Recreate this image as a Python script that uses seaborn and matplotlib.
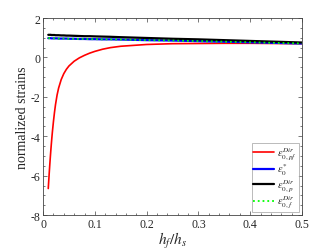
import numpy as np
import pandas as pd
import matplotlib
matplotlib.use("Agg")
import matplotlib.pyplot as plt
from matplotlib.ticker import MultipleLocator, FuncFormatter
import seaborn as sns

# values
hf_hs = [0.01, 0.011, 0.012, 0.013, 0.014, 0.015, 0.016, 0.017, 0.018, 0.02,
         0.022, 0.024, 0.027, 0.03, 0.035, 0.04, 0.045, 0.05, 0.06, 0.07,
         0.08, 0.09, 0.1, 0.115, 0.13, 0.15, 0.2, 0.25, 0.3, 0.35, 0.4, 0.45, 0.5]
eps_pf = [-6.65, -6.22, -5.81, -5.42, -5.05, -4.7, -4.37, -4.06, -3.77, -3.25,
          -2.79, -2.39, -1.91, -1.55, -1.12, -0.82, -0.6, -0.43, -0.19, -0.02,
          0.11, 0.22, 0.31, 0.42, 0.5, 0.57, 0.66, 0.7, 0.71, 0.72, 0.72, 0.71, 0.7]
eps_star = [0.98, 0.98, 0.98, 0.98, 0.98, 0.98, 0.97, 0.97, 0.97, 0.97,
            0.97, 0.97, 0.97, 0.96, 0.96, 0.96, 0.96, 0.95, 0.95, 0.94,
            0.94, 0.93, 0.93, 0.92, 0.92, 0.91, 0.88, 0.86, 0.83, 0.8, 0.77, 0.74, 0.71]
eps_p = [1.15, 1.15, 1.15, 1.15, 1.15, 1.15, 1.14, 1.14, 1.14, 1.14,
         1.14, 1.13, 1.13, 1.13, 1.12, 1.12, 1.11, 1.11, 1.1, 1.09,
         1.08, 1.08, 1.07, 1.06, 1.05, 1.03, 0.99, 0.95, 0.92, 0.88, 0.84, 0.8, 0.76]
eps_f = eps_star

labels = [r'$\varepsilon_{0,pf}^{Dir}$', r'$\varepsilon_{0}^{*}$',
          r'$\varepsilon_{0,p}^{Dir}$', r'$\varepsilon_{0,f}^{Dir}$']

sns.set_style("ticks")
plt.rcParams['font.family'] = ['Liberation Serif', 'DejaVu Serif']
plt.rcParams['mathtext.fontset'] = 'stix'
plt.rcParams['axes.unicode_minus'] = False

fig = plt.figure(figsize=(3.34, 2.51), dpi=100)
ax = fig.add_axes([0.129, 0.139, 0.775, 0.785])

df = pd.DataFrame({'x': hf_hs, 'pf': eps_pf, 'star': eps_star, 'p': eps_p, 'f': eps_f})
sns.lineplot(data=df, x='x', y='pf', ax=ax, color='#ff0000', lw=1.2, label=labels[0])
sns.lineplot(data=df, x='x', y='star', ax=ax, color='#0000ff', lw=1.6, label=labels[1])
sns.lineplot(data=df, x='x', y='p', ax=ax, color='black', lw=1.6, label=labels[2])
sns.lineplot(data=df, x='x', y='f', ax=ax, color='#00ff00', lw=1.3, ls=':', label=labels[3])

ax.set_xlim(0, 0.5)
ax.set_ylim(-8, 2)
ax.xaxis.set_major_locator(MultipleLocator(0.1))
ax.xaxis.set_minor_locator(MultipleLocator(0.02))
ax.yaxis.set_major_locator(MultipleLocator(2))
ax.yaxis.set_minor_locator(MultipleLocator(0.5))
fmt = FuncFormatter(lambda v, pos: '%g' % round(v, 6))
ax.xaxis.set_major_formatter(fmt)
ax.yaxis.set_major_formatter(fmt)
ax.tick_params(which='both', direction='in', top=True, right=True, labelsize=8.5,
               color='#444444', pad=2)
ax.tick_params(which='major', length=3, width=0.5)
ax.tick_params(which='minor', length=1.5, width=0.5)
for s in ax.spines.values():
    s.set_linewidth(0.6)
    s.set_color('#444444')

ax.set_xlabel(r'$h_f/h_s$', fontsize=11, labelpad=0)
ax.set_ylabel('normalized strains', fontsize=10, labelpad=1)

leg = ax.legend(loc='lower right', fontsize=7.5, frameon=True, fancybox=False,
                handlelength=2.0, handletextpad=0.3, labelspacing=0.0,
                borderpad=0.15, borderaxespad=0.3)
leg.get_frame().set_edgecolor('#888888')
leg.get_frame().set_linewidth(0.5)

fig.savefig('out.png', dpi=100)
